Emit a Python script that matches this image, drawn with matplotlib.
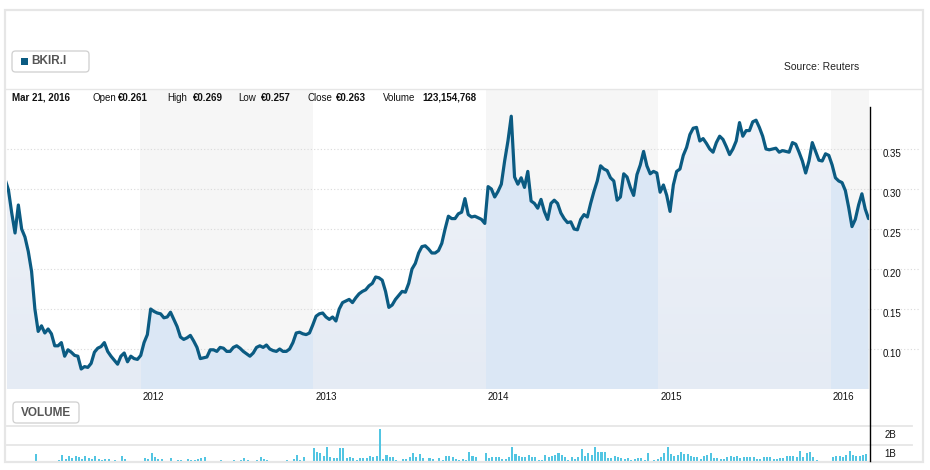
import numpy as np
import pandas as pd
import matplotlib
matplotlib.use("Agg")
import matplotlib.pyplot as plt
import matplotlib.dates as mdates
from matplotlib.patches import FancyBboxPatch, Rectangle
from matplotlib.lines import Line2D
from matplotlib.transforms import ScaledTranslation

# ---------------- data ----------------
ticker = "BKIR.I"
source_text = "Source: Reuters"
info_date = "Mar 21, 2016"
info_labels = ["Open", "High", "Low", "Close", "Volume"]
info_values = ["€0.261", "€0.269", "€0.257", "€0.263", "123,154,768"]

start_date = "2011-03-21"
prices = [
    0.312, 0.299, 0.270, 0.245, 0.280, 0.250, 0.240, 0.222, 0.197, 0.150,
    0.122, 0.129, 0.120, 0.125, 0.119, 0.104, 0.104, 0.108, 0.091, 0.099,
    0.096, 0.092, 0.091, 0.075, 0.078, 0.077, 0.082, 0.096, 0.101, 0.103,
    0.108, 0.097, 0.091, 0.086, 0.081, 0.091, 0.095, 0.084, 0.091, 0.088,
    0.087, 0.092, 0.108, 0.118, 0.150, 0.147, 0.145, 0.144, 0.139, 0.140,
    0.146, 0.137, 0.128, 0.115, 0.112, 0.114, 0.117, 0.110, 0.102, 0.088,
    0.089, 0.090, 0.099, 0.099, 0.097, 0.102, 0.101, 0.097, 0.097, 0.102,
    0.104, 0.101, 0.097, 0.094, 0.091, 0.095, 0.102, 0.104, 0.102, 0.105,
    0.100, 0.098, 0.097, 0.100, 0.097, 0.097, 0.100, 0.108, 0.120, 0.121,
    0.119, 0.118, 0.120, 0.130, 0.141, 0.144, 0.145, 0.140, 0.137, 0.140,
    0.135, 0.150, 0.158, 0.160, 0.162, 0.158, 0.164, 0.169, 0.172, 0.174,
    0.179, 0.182, 0.190, 0.189, 0.186, 0.172, 0.152, 0.155, 0.162, 0.167,
    0.172, 0.171, 0.182, 0.200, 0.207, 0.220, 0.228, 0.229, 0.225, 0.220,
    0.220, 0.223, 0.232, 0.250, 0.266, 0.263, 0.263, 0.269, 0.271, 0.288,
    0.268, 0.265, 0.266, 0.264, 0.262, 0.257, 0.303, 0.300, 0.290, 0.297,
    0.306, 0.335, 0.360, 0.391, 0.315, 0.306, 0.314, 0.302, 0.322, 0.285,
    0.282, 0.276, 0.287, 0.272, 0.262, 0.282, 0.286, 0.282, 0.270, 0.263,
    0.258, 0.259, 0.250, 0.249, 0.262, 0.268, 0.265, 0.282, 0.297, 0.310,
    0.329, 0.325, 0.323, 0.314, 0.310, 0.286, 0.290, 0.319, 0.315, 0.302,
    0.292, 0.318, 0.330, 0.347, 0.329, 0.319, 0.322, 0.320, 0.296, 0.305,
    0.292, 0.272, 0.305, 0.322, 0.325, 0.342, 0.352, 0.368, 0.376, 0.377,
    0.360, 0.363, 0.357, 0.350, 0.346, 0.358, 0.366, 0.362, 0.353, 0.343,
    0.350, 0.360, 0.383, 0.366, 0.373, 0.373, 0.384, 0.386, 0.377, 0.366,
    0.350, 0.349, 0.350, 0.351, 0.346, 0.348, 0.347, 0.346, 0.358, 0.356,
    0.346, 0.335, 0.320, 0.335, 0.358, 0.347, 0.336, 0.335, 0.344, 0.342,
    0.330, 0.314, 0.310, 0.308, 0.298, 0.277, 0.253, 0.262, 0.280, 0.294,
    0.275, 0.263,
]

# weekly volume, billions of shares
volumes_bn = [
    0.15, 0.15, 0.15, 0.15, 0.15, 0.15, 0.15, 0.15, 0.15, 0.55,
    0.15, 0.15, 0.15, 0.15, 0.15, 0.15, 0.25, 0.50, 0.28, 0.46,
    0.36, 0.45, 0.41, 0.31, 0.45, 0.36, 0.28, 0.45, 0.28, 0.25,
    0.31, 0.31, 0.15, 0.25, 0.15, 0.46, 0.31, 0.15, 0.15, 0.15,
    0.15, 0.15, 0.36, 0.31, 0.60, 0.41, 0.28, 0.31, 0.15, 0.15,
    0.36, 0.15, 0.25, 0.25, 0.15, 0.31, 0.25, 0.25, 0.28, 0.36,
    0.41, 0.15, 0.15, 0.15, 0.15, 0.25, 0.15, 0.15, 0.15, 0.25,
    0.15, 0.25, 0.36, 0.25, 0.15, 0.15, 0.25, 0.41, 0.31, 0.25,
    0.15, 0.15, 0.15, 0.15, 0.15, 0.25, 0.15, 0.31, 0.51, 0.25,
    0.41, 0.15, 0.15, 0.88, 0.67, 0.62, 0.46, 0.93, 0.41, 0.36,
    0.36, 0.88, 0.88, 0.36, 0.41, 0.36, 0.25, 0.36, 0.36, 0.36,
    0.46, 0.41, 0.46, 1.86, 0.31, 0.51, 0.41, 0.41, 0.25, 0.15,
    0.31, 0.31, 0.41, 0.62, 0.41, 0.57, 0.36, 0.15, 0.36, 0.31,
    0.15, 0.36, 0.25, 0.46, 0.46, 0.41, 0.31, 0.25, 0.31, 0.25,
    0.67, 0.46, 0.41, 0.15, 0.15, 0.62, 0.36, 0.41, 0.41, 0.41,
    0.31, 0.31, 0.41, 0.93, 0.57, 0.46, 0.41, 0.41, 0.51, 0.41,
    0.41, 0.25, 0.25, 0.51, 0.41, 0.46, 0.51, 0.62, 0.51, 0.41,
    0.25, 0.41, 0.31, 0.41, 0.82, 0.46, 0.62, 0.51, 0.93, 0.67,
    0.67, 0.67, 0.36, 0.36, 0.46, 0.41, 0.36, 0.31, 0.36, 0.25,
    0.31, 0.36, 0.36, 0.25, 0.62, 0.15, 0.25, 0.31, 0.41, 0.62,
    0.93, 0.57, 0.46, 0.51, 0.67, 0.57, 0.57, 0.46, 0.41, 0.41,
    0.31, 0.46, 0.51, 0.62, 0.36, 0.36, 0.31, 0.31, 0.41, 0.46,
    0.41, 0.46, 0.36, 0.41, 0.41, 0.41, 0.41, 0.31, 0.31, 0.41,
    0.41, 0.41, 0.31, 0.31, 0.36, 0.36, 0.46, 0.46, 0.46, 0.41,
    0.72, 0.41, 0.62, 0.67, 0.41, 0.25, 0.15, 0.15, 0.15, 0.15,
    0.41, 0.46, 0.46, 0.41, 0.51, 0.72, 0.51, 0.46, 0.46, 0.51,
    0.57, 0.15,
]

year_ticks = ["2012-01-01", "2013-01-01", "2014-01-01", "2015-01-01", "2016-01-01"]
year_labels = ["2012", "2013", "2014", "2015", "2016"]
shaded_years = [2012, 2014, 2016]
price_ticks = [0.10, 0.15, 0.20, 0.25, 0.30, 0.35]
price_tick_labels = ["0.10", "0.15", "0.20", "0.25", "0.30", "0.35"]
vol_ticks = [1, 2]
vol_tick_labels = ["1B", "2B"]

# ---------------- style ----------------
W, H, DPI = 930, 470, 100
FONT = "Liberation Sans"
LINE_C = "#0b5b82"
BAR_C = "#52c5e2"
BAND_C = "#f6f6f6"
GRID_C = "#d9d9d9"
TEXT_C = "#111111"
BTN_TEXT = "#555555"

plt.rcParams["font.family"] = [FONT, "DejaVu Sans"]

fig = plt.figure(figsize=(W / DPI, H / DPI), dpi=DPI)
fig.patch.set_facecolor("white")


def fx(px):
    return px / W


def fy(py):
    return 1 - py / H


dates = pd.date_range(start_date, periods=len(prices), freq="7D")
vdates = pd.date_range(start_date, periods=len(volumes_bn), freq="7D") + pd.Timedelta(days=2)
x0 = mdates.date2num(pd.Timestamp("2011-03-25"))
x1 = mdates.date2num(pd.Timestamp("2016-03-22"))
ymin, ymax = 0.05, 0.425

# ---------------- main price axes ----------------
ax = fig.add_axes([fx(7), fy(389), fx(869) - fx(7), fy(89) - fy(389)])
ax.set_facecolor("white")
for s in ax.spines.values():
    s.set_visible(False)

ax.plot(dates, prices, color=LINE_C, lw=2.3, zorder=4,
        solid_joinstyle="round", solid_capstyle="round")

for yr in shaded_years:
    ax.axvspan(pd.Timestamp(f"{yr}-01-01"), pd.Timestamp(f"{yr + 1}-01-01"),
               color=BAND_C, lw=0, zorder=0)

# fill under the line: gradient in odd years, solid blue in even years
ncol, nrow = 1800, 120
xs = np.linspace(x0, x1, ncol)
yrs = np.array([mdates.num2date(v).year for v in xs])
even = (yrs % 2 == 0)
frac = np.linspace(0, 1, nrow)[:, None]
bot = np.array([0xe5, 0xeb, 0xf4]) / 255
top = np.array([0xf0, 0xf3, 0xf9]) / 255
evc = np.array([0xdb, 0xe7, 0xf5]) / 255
img = np.empty((nrow, ncol, 3))
for c in range(3):
    grad = bot[c] + (top[c] - bot[c]) * frac
    img[:, :, c] = np.where(even[None, :], evc[c], grad)
poly = ax.fill_between(dates, prices, ymin, facecolor="none", edgecolor="none")
im = ax.imshow(img, extent=[x0, x1, ymin, ymax], aspect="auto", origin="lower",
               interpolation="nearest", zorder=2)
im.set_clip_path(poly.get_paths()[0], transform=ax.transData)

for t in price_ticks:
    ax.axhline(t, xmin=0, xmax=(920 - 7) / (869 - 7), color=GRID_C, lw=0.8,
               ls=(0, (1, 2)), clip_on=False, zorder=1)

ax.set_xlim(x0, x1)
ax.set_ylim(ymin, ymax)

ax.set_xticks(pd.to_datetime(year_ticks))
ax.set_xticklabels(year_labels)
ax.tick_params(axis="x", length=0, pad=2.5, labelsize=7, labelcolor=TEXT_C)
for lbl in ax.get_xticklabels():
    lbl.set_ha("left")
    lbl.set_transform(lbl.get_transform() + ScaledTranslation(2 / DPI, 0, fig.dpi_scale_trans))

ax.yaxis.tick_right()
ax.set_yticks(price_ticks)
ax.set_yticklabels(price_tick_labels)
ax.tick_params(axis="y", length=0, pad=10, labelsize=7, labelcolor=TEXT_C)
for lbl in ax.get_yticklabels():
    lbl.set_transform(lbl.get_transform() + ScaledTranslation(0, -4 / DPI, fig.dpi_scale_trans))

# ---------------- volume axes ----------------
vax = fig.add_axes([fx(7), fy(461), fx(869) - fx(7), fy(426) - fy(461)])
vax.set_facecolor("none")
for s in vax.spines.values():
    s.set_visible(False)
vax.bar(vdates, volumes_bn, width=4.3, color=BAR_C, lw=0, zorder=3, antialiased=False)
vax.set_xlim(x0, x1)
vax.set_ylim(0.187, 2.0)
for t in vol_ticks:
    vax.axhline(t, xmin=0, xmax=(912 - 7) / (869 - 7), color="#e6e6e6", lw=1.3,
                clip_on=False, zorder=1)
vax.set_xticks([])
vax.yaxis.tick_right()
vax.set_yticks(vol_ticks)
vax.set_yticklabels(vol_tick_labels)
vax.tick_params(axis="y", length=0, pad=11, labelsize=7, labelcolor=TEXT_C)
for lbl in vax.get_yticklabels():
    lbl.set_transform(lbl.get_transform() + ScaledTranslation(0, -8 / DPI, fig.dpi_scale_trans))

# ---------------- decorations ----------------
# outer frame
fig.add_artist(Rectangle((fx(5), fy(462)), fx(923) - fx(5), fy(10) - fy(462),
                         fill=False, edgecolor="#e6e6e6", lw=1.6, zorder=10))
# header separator
fig.add_artist(Line2D([fx(6), fx(922)], [fy(88.5), fy(88.5)], color="#e6e6e6", lw=1))
# vertical axis line
fig.add_artist(Line2D([fx(869.5), fx(869.5)], [fy(107), fy(461)], color="black", lw=1, zorder=11))


def button(xa, ya, xb, yb):
    p = FancyBboxPatch((xa / DPI, (H - yb) / DPI), (xb - xa) / DPI, (yb - ya) / DPI,
                       boxstyle="round,pad=0,rounding_size=0.035",
                       transform=fig.dpi_scale_trans, facecolor="white",
                       edgecolor="#cfcfcf", lw=0.9, zorder=5)
    fig.add_artist(p)


button(12, 51, 89, 72)
fig.add_artist(Rectangle((fx(21), fy(65)), fx(28) - fx(21), fy(58) - fy(65),
                         facecolor=LINE_C, edgecolor="none", zorder=6))
fig.text(fx(31), fy(61.5), ticker, fontsize=8.5, fontweight="bold", color=BTN_TEXT,
         ha="left", va="center", zorder=7)

button(13, 402, 79, 423)
fig.text(fx(46), fy(412.5), "VOLUME", fontsize=8.5, fontweight="bold", color=BTN_TEXT,
         ha="center", va="center", zorder=7)

fig.text(fx(784), fy(67.5), source_text, fontsize=7.5, color="#222222",
         ha="left", va="center")

# info row
fig.text(fx(12), fy(98), info_date, fontsize=7, fontweight="bold", color=TEXT_C,
         ha="left", va="center", zorder=8)
label_x = [92, 167, 238, 307, 383]
value_x = [118, 193, 261, 336, 422]
for lab, val, lx, vx in zip(info_labels, info_values, label_x, value_x):
    fig.text(fx(lx), fy(98), lab, fontsize=7, color=TEXT_C, ha="left", va="center", zorder=8)
    fig.text(fx(vx), fy(98), val, fontsize=7, fontweight="bold", color=TEXT_C,
             ha="left", va="center", zorder=8)

fig.savefig("out.png", dpi=DPI, facecolor="white")
